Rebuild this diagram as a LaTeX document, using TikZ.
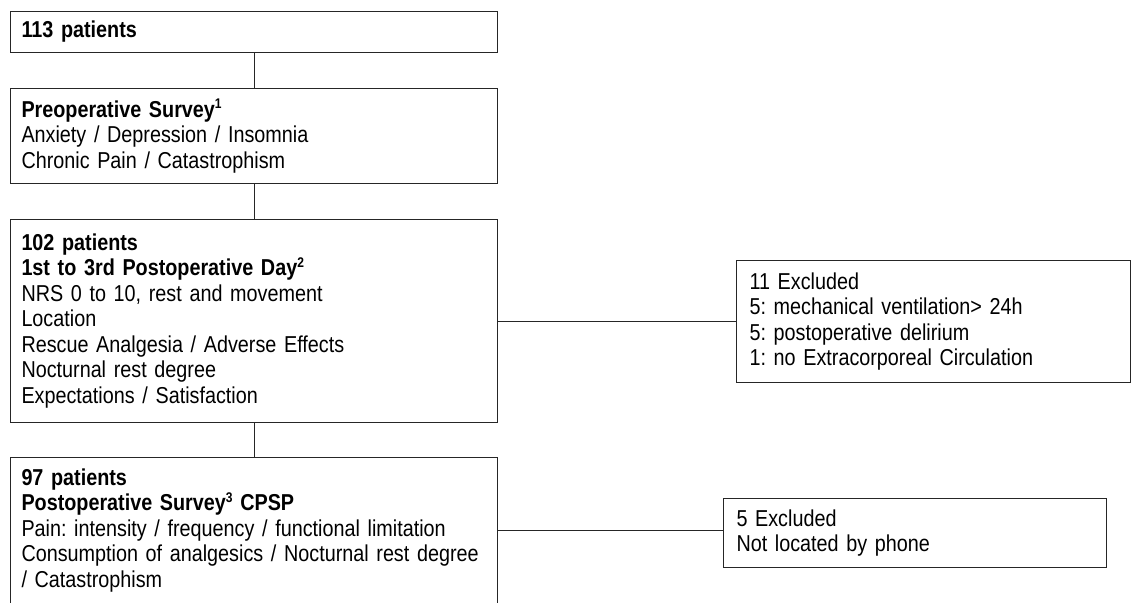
\documentclass[tikz,border=0pt]{standalone}
\usepackage{fontspec}
\setmainfont{Liberation Sans}[FakeStretch=0.86,WordSpace=0.8]
\newcommand{\supnum}[1]{\raisebox{0.7ex}{\fontsize{14}{14}\selectfont #1}}
\hyphenpenalty=10000
\frenchspacing
\begin{document}
\begin{tikzpicture}[x=1pt,y=-1pt,
  box/.style={draw=black!85,line width=1pt,rectangle,anchor=north west,align=left,
    inner ysep=0pt,font=\fontsize{23}{25.5}\selectfont},
  lbox/.style={box,inner xsep=11pt,text width=465pt},
  conn/.style={draw=black!85,line width=1pt}]
\useasboundingbox (0,0) rectangle (1131,602);
\fill[white] (0,0) rectangle (1131,602);
\node[lbox,minimum height=41pt] (b1) at (10,11) {\textbf{113 patients}};
\node[lbox,minimum height=95pt] (b2) at (10,88) {\textbf{Preoperative Survey\supnum{1}}\\Anxiety / Depression / Insomnia\\Chronic Pain / Catastrophism};
\node[lbox,minimum height=203pt] (b3) at (10,219) {\textbf{102 patients}\\\textbf{1st to 3rd Postoperative Day\supnum{2}}\\NRS 0 to 10, rest and movement\\Location\\Rescue Analgesia / Adverse Effects\\Nocturnal rest degree\\Expectations / Satisfaction};
\node[lbox,minimum height=146pt] (b4) at (10,457) {\textbf{97 patients}\\\textbf{Postoperative Survey\supnum{3} CPSP}\\Pain: intensity / frequency / functional limitation\\Consumption of analgesics / Nocturnal rest degree\\/ Catastrophism};
\node[box,inner xsep=13pt,text width=368pt,minimum height=122pt] (b5) at (736,260) {11 Excluded\\5: mechanical ventilation> 24h\\5: postoperative delirium\\1: no Extracorporeal Circulation};
\node[box,inner xsep=13pt,text width=357pt,minimum height=69pt] (b6) at (723,498) {5 Excluded\\Not located by phone};
\draw[conn] (b1.south) -- (b2.north);
\draw[conn] (b2.south) -- (b3.north);
\draw[conn] (b3.south) -- (b4.north);
\draw[conn] (b3.east) -- (b3.east -| b5.west);
\draw[conn] (b4.east) -- (b4.east -| b6.west);
\end{tikzpicture}
\end{document}
